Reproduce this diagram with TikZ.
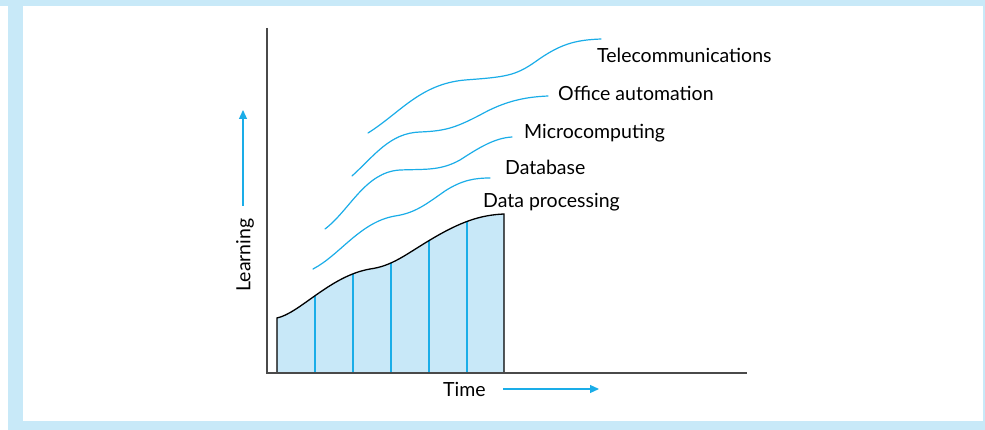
\documentclass[tikz,border=0pt]{standalone}
\usepackage{fontspec}
\setmainfont{Lato}
\usetikzlibrary{arrows.meta}
\definecolor{bandblue}{HTML}{C8E9F8}
\definecolor{areablue}{HTML}{C8E8F8}
\definecolor{curveblue}{HTML}{1AADE8}
\definecolor{axisgray}{HTML}{4A4A4A}
\tikzset{
  band/.style={fill=bandblue, draw=none},
  axis/.style={draw=axisgray, line width=1.5pt},
  trend/.style={draw=curveblue, line width=1.2pt, line cap=round},
  outline/.style={draw=black, line width=1.3pt},
  divider/.style={draw=curveblue, line width=1.2pt},
  label/.style={font=\fontsize{19.5}{22}\selectfont, inner sep=0pt, anchor=base west},
  pointer/.style={draw=curveblue, line width=1.2pt, -{Triangle[length=9pt,width=8pt]}},
}
\begin{document}
\begin{tikzpicture}[x=1pt, y=-1pt]
  \useasboundingbox (0,0) rectangle (985,430);
  % page frame
  \fill[white] (0,0) rectangle (985,430);
  \path[band] (0,0) rectangle (985,6);
  \path[band] (8,6) rectangle (23,430);
  \path[band] (8,421) rectangle (985,430);
  \path[band] (983,6) rectangle (985,430);

  % data processing area
  \def\dpcurve{(277,318) .. controls (300,313) and (330,276) .. (370,269)
    .. controls (392,266) and (405,255) .. (430,240)
    .. controls (460,222) and (480,215) .. (504,214)}
  \fill[areablue] (277,373) -- \dpcurve -- (504,373) -- cycle;
  \begin{scope}
    \clip (277,373) -- \dpcurve -- (504,373) -- cycle;
    \foreach \xx in {315,353,391,429,467}
      \draw[divider] (\xx,373) -- (\xx,200);
  \end{scope}
  \draw[outline] (277,373) -- \dpcurve -- (504,373);

  % later technologies
  \draw[trend] (313,269) .. controls (340,255) and (360,222) .. (395,216)
    .. controls (415,213) and (425,205) .. (445,191)
    .. controls (462,180) and (475,178) .. (490,178);
  \draw[trend] (325,229) .. controls (350,210) and (365,172) .. (400,170)
    .. controls (425,169) and (440,171) .. (460,160)
    .. controls (480,147) and (495,138) .. (512,137);
  \draw[trend] (352,176) .. controls (375,155) and (390,133) .. (420,132)
    .. controls (445,131) and (455,128) .. (480,115)
    .. controls (505,101) and (525,97) .. (548,96);
  \draw[trend] (368,133) .. controls (400,113) and (420,84) .. (465,80)
    .. controls (505,77) and (515,76) .. (535,62)
    .. controls (560,44) and (575,40) .. (601,39);

  % axes
  \coordinate (origin) at (267,373);
  \coordinate (ytop) at (267,28);
  \coordinate (xend) at (747,373);
  \draw[axis] (ytop) -- (origin) -- (xend);

  % labels
  \node[label] (tele) at (597,63) {Telecommunications};
  \node[label] (office) at (558,101) {Office automation};
  \node[label] (micro) at (524,139) {Microcomputing};
  \node[label] (db) at (505,175) {Database};
  \node[label] (dp) at (483,208) {Data processing};

  % axis titles with arrows
  \node[label] (time) at (443,396) {Time};
  \coordinate (tstart) at (503,389);
  \coordinate (tend) at (599,389);
  \draw[pointer] (tstart) -- (tend);
  \node[font=\fontsize{19.5}{22}\selectfont, inner sep=0pt, rotate=90] (learn) at (245,255) {Learning};
  \coordinate (lstart) at (243,206);
  \coordinate (lend) at (243,110);
  \draw[pointer] (lstart) -- (lend);
\end{tikzpicture}
\end{document}
